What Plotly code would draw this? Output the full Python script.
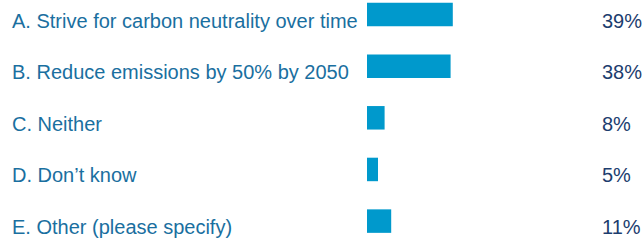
import plotly.graph_objects as go

categories = [
    "A. Strive for carbon neutrality over time",
    "B. Reduce emissions by 50% by 2050",
    "C. Neither",
    "D. Don\u2019t know",
    "E. Other (please specify)",
]
values = [39, 38, 8, 5, 11]
value_labels = ["39%", "38%", "8%", "5%", "11%"]

W, H = 644, 240
bar_x0 = 367
px_per_pct = 2.2
row0 = 14.5
row_step = 51.65

positions = list(range(len(categories)))

fig = go.Figure()
fig.add_trace(go.Bar(
    x=values, y=positions, orientation="h",
    marker=dict(color="#0099cc", line=dict(width=0)),
    width=0.455, hoverinfo="skip",
))

for i, (cat, lab) in enumerate(zip(categories, value_labels)):
    fig.add_annotation(x=10 / W, xref="paper", y=i, yref="y", text=cat,
                       showarrow=False, xanchor="left", yanchor="middle", yshift=-6,
                       font=dict(family="Liberation Sans, Arial", size=20, color="#1a6fa0"))
    fig.add_annotation(x=600 / W, xref="paper", y=i, yref="y", text=lab,
                       showarrow=False, xanchor="left", yanchor="middle", yshift=-6,
                       font=dict(family="Liberation Sans, Arial", size=20, color="#1c3d6e"))

fig.update_layout(
    width=W, height=H,
    margin=dict(l=0, r=0, t=0, b=0),
    paper_bgcolor="white", plot_bgcolor="white",
    showlegend=False,
    xaxis=dict(domain=[bar_x0 / W, 1], range=[0, (W - bar_x0) / px_per_pct],
               visible=False, fixedrange=True),
    yaxis=dict(range=[(H - row0) / row_step, -row0 / row_step],
               visible=False, fixedrange=True),
)

fig.write_html("out.html", config={"displayModeBar": False},
               post_script="document.body.style.margin='0';document.body.style.overflow='hidden';")
